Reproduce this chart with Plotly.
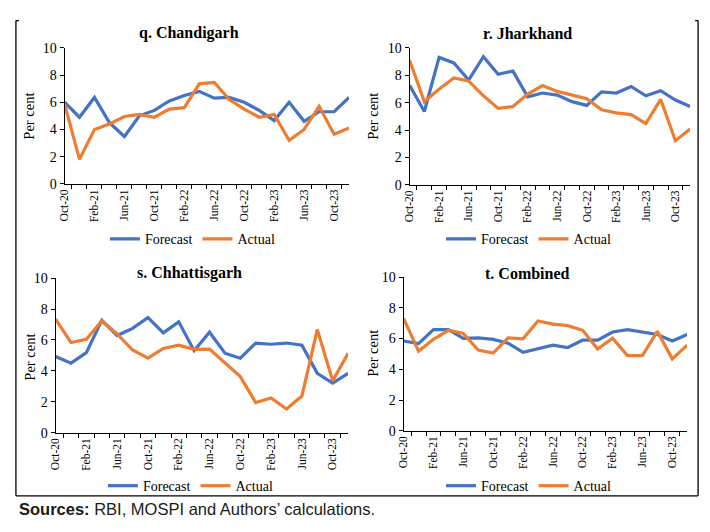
import plotly.graph_objects as go

W, H = 710, 532

months = ["Oct-20", "Dec-20", "Feb-21", "Apr-21", "Jun-21", "Aug-21", "Oct-21", "Dec-21",
          "Feb-22", "Apr-22", "Jun-22", "Aug-22", "Oct-22", "Dec-22", "Feb-23", "Apr-23",
          "Jun-23", "Aug-23", "Oct-23", "Dec-23"]
tick_text = [m if i % 2 == 0 else "" for i, m in enumerate(months)]

titles = ["q. Chandigarh", "r. Jharkhand", "s. Chhattisgarh", "t. Combined"]

chandigarh_forecast = [6.0, 4.9, 6.35, 4.5, 3.48, 5.0, 5.4, 6.1, 6.5, 6.8, 6.3, 6.35, 6.0, 5.4, 4.65, 6.0, 4.6, 5.3, 5.3, 6.35]
chandigarh_actual = [5.9, 1.8, 4.0, 4.4, 4.95, 5.1, 4.9, 5.5, 5.6, 7.35, 7.45, 6.2, 5.5, 4.9, 5.1, 3.2, 4.0, 5.7, 3.65, 4.1]

jharkhand_forecast = [7.27, 5.35, 9.3, 8.9, 7.65, 9.35, 8.07, 8.3, 6.42, 6.7, 6.55, 6.07, 5.8, 6.78, 6.7, 7.18, 6.5, 6.87, 6.19, 5.72]
jharkhand_actual = [9.1, 6.07, 7.0, 7.8, 7.58, 6.5, 5.58, 5.72, 6.63, 7.25, 6.82, 6.54, 6.28, 5.48, 5.25, 5.13, 4.47, 6.24, 3.22, 4.07]

chhattisgarh_forecast = [4.93, 4.5, 5.18, 7.27, 6.29, 6.75, 7.44, 6.46, 7.17, 5.3, 6.5, 5.14, 4.82, 5.8, 5.72, 5.8, 5.66, 3.84, 3.2, 3.84]
chhattisgarh_actual = [7.34, 5.83, 6.04, 7.23, 6.39, 5.35, 4.82, 5.45, 5.66, 5.39, 5.41, 4.5, 3.63, 1.95, 2.24, 1.53, 2.37, 6.67, 3.35, 5.14]

combined_forecast = [5.84, 5.67, 6.58, 6.58, 6.01, 6.05, 5.95, 5.7, 5.1, 5.32, 5.57, 5.42, 5.9, 5.9, 6.43, 6.58, 6.43, 6.27, 5.84, 6.27]
combined_actual = [7.32, 5.17, 5.95, 6.54, 6.33, 5.25, 5.06, 6.05, 5.99, 7.15, 6.94, 6.84, 6.54, 5.32, 6.03, 4.89, 4.89, 6.48, 4.68, 5.57]

forecasts = [chandigarh_forecast, jharkhand_forecast, chhattisgarh_forecast, combined_forecast]
actuals = [chandigarh_actual, jharkhand_actual, chhattisgarh_actual, combined_actual]

y_ticks = [0, 2, 4, 6, 8, 10]

BLUE = "#4472C4"
ORANGE = "#ED7D31"
SERIF = "Liberation Serif, Times New Roman, serif"
SANS = "Liberation Sans, Arial, sans-serif"

# panel boxes in pixels: (left, right, top, bottom)
boxes = [(59, 346, 42, 182), (407, 690, 42, 183), (50, 345, 279, 438), (401, 687, 278, 436)]
title_pos = [(185, 27), (526, 27), (185, 274), (526, 274)]
ytitle_pos = [(23, 112), (370, 112), (24, 360), (370, 356)]
legend_pos = [(188, 239), (527, 239), (186, 493), (527, 493)]

def px(x):
    return x / W

def py(y):
    return 1 - y / H

fig = go.Figure()
layout = dict(width=W, height=H, margin=dict(l=0, r=0, t=0, b=0),
              paper_bgcolor="white", plot_bgcolor="white", showlegend=True)
annotations = []
shapes = []

for i in range(4):
    n = "" if i == 0 else str(i + 1)
    lg = "legend" + n
    fig.add_trace(go.Scatter(x=months, y=forecasts[i], mode="lines", name="Forecast",
                             line=dict(color=BLUE, width=3.2), xaxis="x" + n, yaxis="y" + n,
                             legend=lg))
    fig.add_trace(go.Scatter(x=months, y=actuals[i], mode="lines", name="Actual",
                             line=dict(color=ORANGE, width=3.2), xaxis="x" + n, yaxis="y" + n,
                             legend=lg))
    l, r, t, b = boxes[i]
    layout["xaxis" + n] = dict(domain=[px(l), px(r)], anchor="y" + n, type="category",
                               tickmode="array", tickvals=months, ticktext=tick_text,
                               tickson="boundaries", ticks="outside", ticklen=4,
                               tickcolor="black", tickangle=-90, showline=True,
                               linecolor="black", linewidth=1, showgrid=False,
                               tickfont=dict(family=SERIF, size=11.5, color="black"),
                               fixedrange=True)
    layout["yaxis" + n] = dict(domain=[py(b), py(t)], anchor="x" + n, range=[0, 10],
                               tickmode="array", tickvals=y_ticks, ticks="outside",
                               ticklen=4, tickcolor="black", showline=True,
                               linecolor="black", linewidth=1, showgrid=False,
                               zeroline=False,
                               tickfont=dict(family=SERIF, size=14, color="black"),
                               fixedrange=True)
    lx, ly = legend_pos[i]
    layout[lg] = dict(x=px(lx), y=py(ly), xanchor="center", yanchor="middle",
                      orientation="h", bgcolor="rgba(0,0,0,0)",
                      font=dict(family=SERIF, size=14, color="black"),
                      itemwidth=30, tracegroupgap=0)
    tx, ty = title_pos[i]
    annotations.append(dict(text="<b>" + titles[i] + "</b>", x=px(tx), y=py(ty),
                            xref="paper", yref="paper", showarrow=False,
                            xanchor="center", yanchor="middle",
                            font=dict(family=SERIF, size=16, color="black")))
    yx, yy = ytitle_pos[i]
    annotations.append(dict(text="Per cent", x=px(yx), y=py(yy), xref="paper", yref="paper",
                            showarrow=False, textangle=-90, xanchor="center",
                            yanchor="middle",
                            font=dict(family=SERIF, size=14.5, color="black")))

annotations.append(dict(text="<b>Sources:</b> RBI, MOSPI and Authors’ calculations.",
                        x=px(11), y=py(517), xref="paper", yref="paper", showarrow=False,
                        xanchor="left", yanchor="middle",
                        font=dict(family=SANS, size=16.5, color="#1a1a1a")))

frame = dict(type="line", xref="paper", yref="paper", line=dict(color="black", width=1.3))
shapes.append(dict(frame, x0=px(10), x1=px(10), y0=py(14), y1=py(503)))
shapes.append(dict(frame, x0=px(698), x1=px(698), y0=py(14), y1=py(503)))
shapes.append(dict(frame, x0=px(10), x1=px(698), y0=py(503), y1=py(503)))
shapes.append(dict(frame, x0=px(10), x1=px(13), y0=py(14), y1=py(14)))
shapes.append(dict(frame, x0=px(695), x1=px(698), y0=py(14), y1=py(14)))

layout["annotations"] = annotations
layout["shapes"] = shapes
fig.update_layout(**layout)

post = ("document.body.style.margin='0';document.body.style.padding='0';"
        "document.body.style.overflow='hidden';"
        "document.documentElement.style.overflow='hidden';")
fig.write_html("out.html", post_script=post, config={"displayModeBar": False})
